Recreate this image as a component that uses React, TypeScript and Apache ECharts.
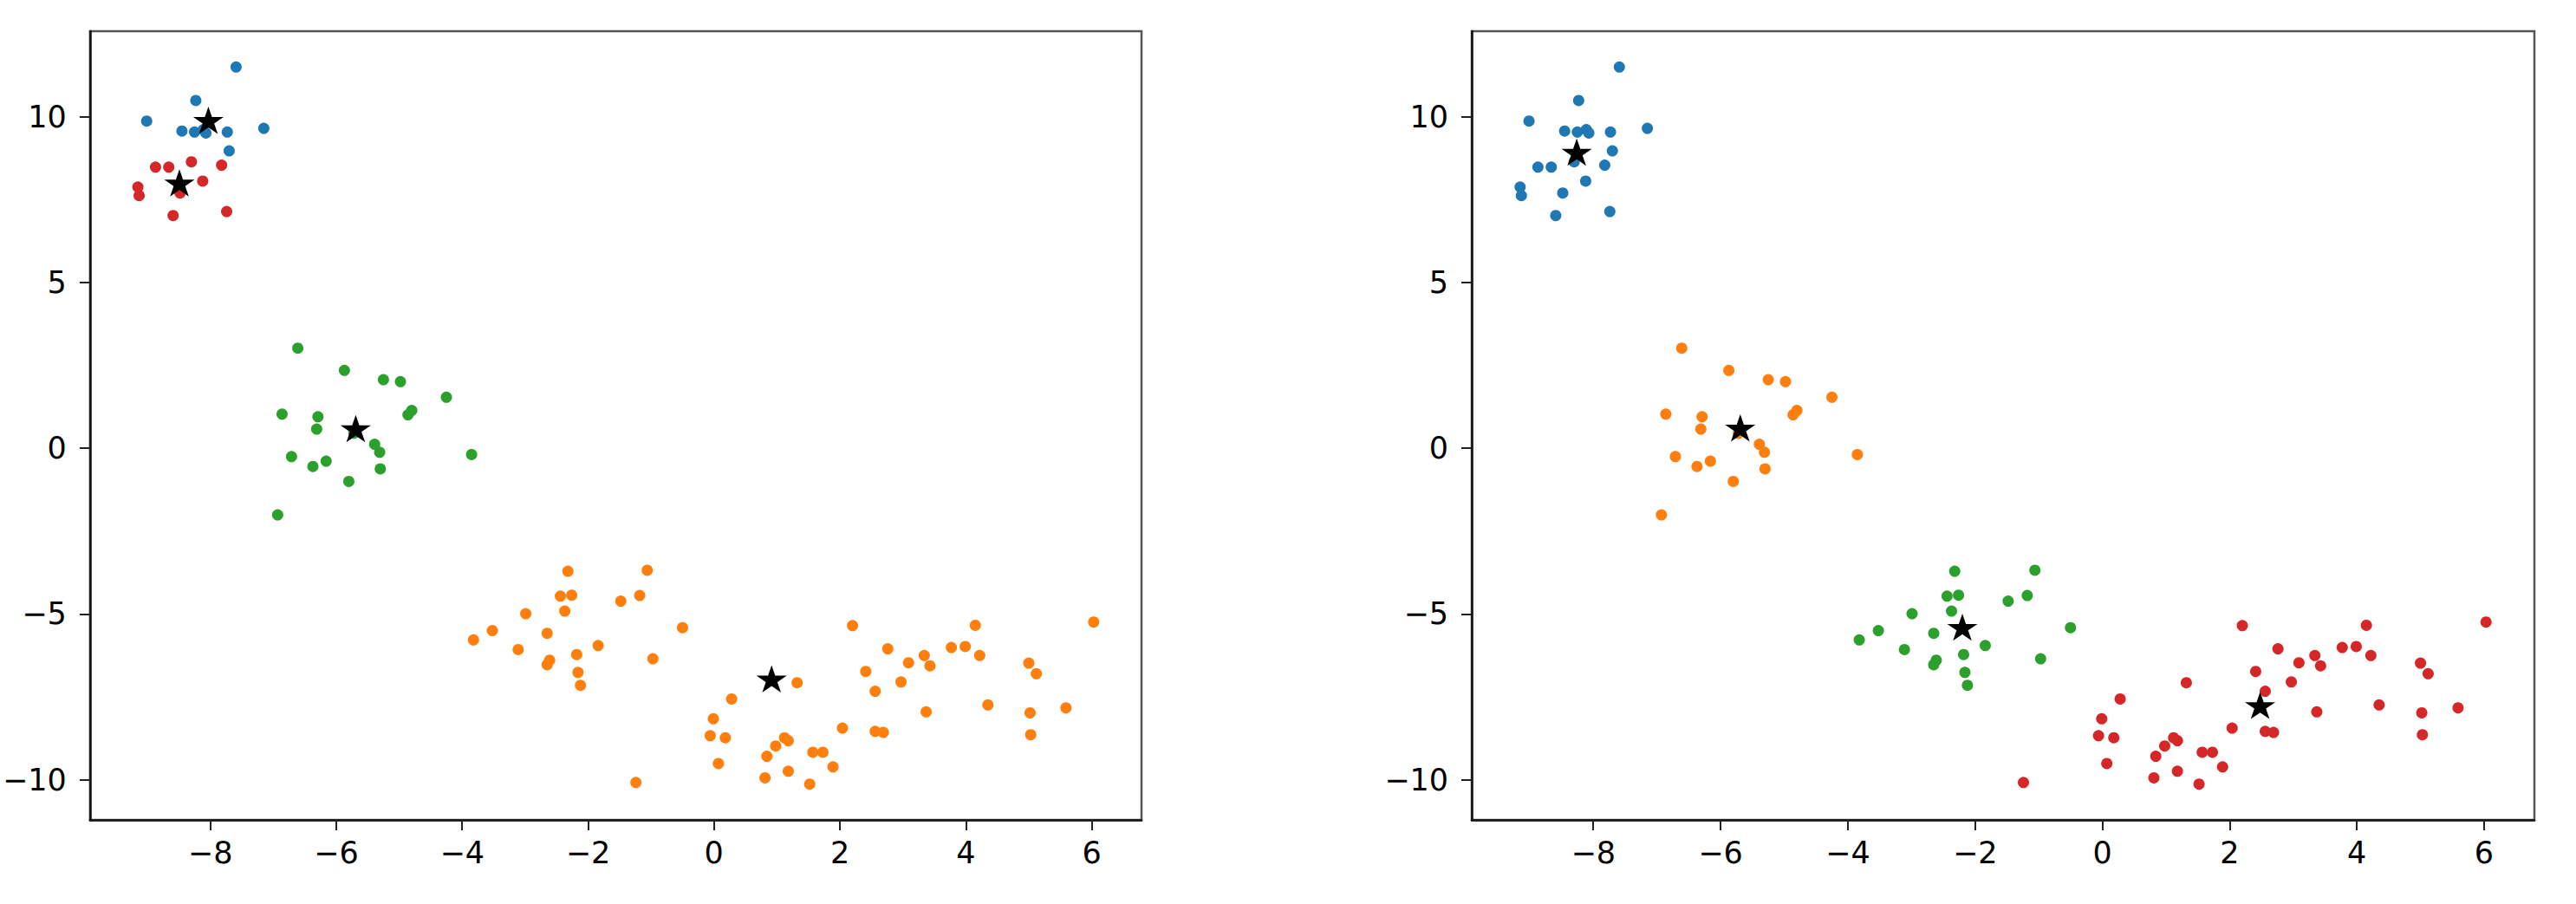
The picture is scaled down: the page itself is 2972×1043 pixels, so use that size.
import React, { useEffect, useRef } from "react";
import * as echarts from "echarts";

// Upper-left blob, first k-means group (blue on the left panel)
const topA: number[][] = [
  [-7.59, 11.5], [-8.23, 10.49], [-9.01, 9.87], [-8.45, 9.57], [-8.25, 9.54],
  [-8.11, 9.61], [-8.07, 9.51], [-7.73, 9.54], [-7.15, 9.65], [-7.7, 8.97],
];
// Upper-left blob, second group (red on the left panel)
const topB: number[][] = [
  [-8.87, 8.48], [-8.66, 8.48], [-8.3, 8.64], [-7.82, 8.54], [-8.12, 8.06],
  [-9.15, 7.88], [-9.13, 7.62], [-8.48, 7.7], [-8.59, 7.02], [-7.74, 7.14],
];
// Middle blob
const mid: number[][] = [
  [-6.61, 3.02], [-5.87, 2.35], [-5.25, 2.07], [-4.98, 2.01], [-4.25, 1.54],
  [-4.86, 1.01], [-4.8, 1.14], [-6.86, 1.03], [-6.29, 0.95], [-6.31, 0.58],
  [-5.39, 0.12], [-5.31, -0.12], [-3.85, -0.19], [-6.71, -0.25], [-6.37, -0.55],
  [-6.16, -0.39], [-5.3, -0.62], [-5.8, -1.0], [-6.93, -2.01], [-5.72, 0.45],
];
// Lower blob, western part
const lowW: number[][] = [
  [-2.32, -3.71], [-1.06, -3.68], [-2.44, -4.46], [-2.26, -4.43], [-1.18, -4.44],
  [-1.48, -4.61], [-2.99, -4.99], [-2.37, -4.91], [-0.5, -5.41], [-3.52, -5.5],
  [-3.82, -5.78], [-2.65, -5.58], [-3.11, -6.07], [-1.84, -5.95], [-2.18, -6.22],
  [-2.61, -6.39], [-2.65, -6.53], [-0.97, -6.35], [-2.16, -6.76], [-2.12, -7.15],
];
// Lower blob, eastern part
const lowE: number[][] = [
  [2.2, -5.35], [4.15, -5.34], [6.03, -5.24], [2.76, -6.05], [3.77, -6.01],
  [3.99, -5.98], [4.22, -6.25], [3.34, -6.25], [3.43, -6.56], [3.09, -6.47],
  [5.0, -6.48], [5.12, -6.8], [2.41, -6.73], [2.97, -7.05], [1.32, -7.07],
  [2.56, -7.33], [0.28, -7.56], [4.35, -7.74], [3.37, -7.95], [5.02, -7.98],
  [5.59, -7.83], [-0.01, -8.16], [2.04, -8.44], [2.56, -8.54], [2.69, -8.57],
  [5.03, -8.64], [-0.06, -8.67], [0.18, -8.73], [1.12, -8.73], [1.18, -8.82],
  [0.98, -8.98], [1.57, -9.17], [1.73, -9.17], [0.84, -9.29], [0.07, -9.51],
  [1.89, -9.61], [1.18, -9.74], [0.81, -9.94], [1.52, -10.13], [-1.24, -10.08],
];
const centersLeft: number[][] = [[-8.03, 9.85], [-8.49, 7.96], [-5.69, 0.55], [0.915, -7.0]];
const centersRight: number[][] = [[-8.26, 8.89], [-5.69, 0.57], [-2.2, -5.44], [2.48, -7.8]];

const xTicks = [-8, -6, -4, -2, 0, 2, 4, 6];
const yTicks = [-10, -5, 0, 5, 10];
const xRange = [-9.91, 6.79];
const yRange = [-11.21, 12.58];

const BLUE = "#1f77b4";
const ORANGE = "#ff7f0e";
const GREEN = "#2ca02c";
const RED = "#d62728";

const STAR =
  "path://M0,-100 L22.45,-30.9 L95.1,-30.9 L36.3,11.8 L58.8,80.9 L0,38.2 L-58.8,80.9 L-36.3,11.8 L-95.1,-30.9 L-22.45,-30.9 Z";

const fmt = (v: number) => String(v).replace("-", "\u2212");

export default function App() {
  const ref = useRef<HTMLDivElement>(null);
  useEffect(() => {
    if (!ref.current) return;
    const chart = echarts.init(ref.current, undefined, { renderer: "svg" });
    const axisFont = { fontFamily: "DejaVu Sans", fontSize: 35, color: "#000" };
    const mkX = (gridIndex: number) => ({
      type: "value",
      gridIndex,
      min: xRange[0],
      max: xRange[1],
      splitLine: { show: false },
      axisLine: { show: true, onZero: false, lineStyle: { color: "#111", width: 2.5 } },
      axisTick: { show: true, length: 12, lineStyle: { color: "#222", width: 2 }, customValues: xTicks },
      axisLabel: { ...axisFont, margin: 20, formatter: fmt, customValues: xTicks },
    });
    const mkY = (gridIndex: number) => ({
      type: "value",
      gridIndex,
      min: yRange[0],
      max: yRange[1],
      splitLine: { show: false },
      axisLine: { show: true, onZero: false, lineStyle: { color: "#111", width: 2.5 } },
      axisTick: { show: true, length: 12, lineStyle: { color: "#222", width: 2 }, customValues: yTicks },
      axisLabel: { ...axisFont, margin: 27, formatter: fmt, customValues: yTicks },
    });
    const dots = (data: number[][], color: string, idx: number) => ({
      type: "scatter",
      xAxisIndex: idx,
      yAxisIndex: idx,
      data,
      symbol: "circle",
      symbolSize: 13,
      itemStyle: { color, opacity: 1 },
      z: 2,
    });
    const stars = (data: number[][], idx: number) => ({
      type: "scatter",
      xAxisIndex: idx,
      yAxisIndex: idx,
      data,
      symbol: STAR,
      symbolKeepAspect: true,
      symbolSize: [35, 33],
      symbolOffset: [0, -1.7],
      itemStyle: { color: "#000", opacity: 1 },
      z: 5,
    });
    chart.setOption({
      animation: false,
      backgroundColor: "#fff",
      grid: [
        { left: 91, top: 36, width: 1226, height: 910, show: true, borderColor: "#555", borderWidth: 2.5, backgroundColor: "transparent" },
        { left: 1698, top: 36, width: 1226, height: 910, show: true, borderColor: "#555", borderWidth: 2.5, backgroundColor: "transparent" },
      ],
      xAxis: [mkX(0), mkX(1)],
      yAxis: [mkY(0), mkY(1)],
      series: [
        dots(topA, BLUE, 0),
        dots([...lowW, ...lowE], ORANGE, 0),
        dots(mid, GREEN, 0),
        dots(topB, RED, 0),
        stars(centersLeft, 0),
        dots([...topA, ...topB], BLUE, 1),
        dots(mid, ORANGE, 1),
        dots(lowW, GREEN, 1),
        dots(lowE, RED, 1),
        stars(centersRight, 1),
      ],
    });
    return () => chart.dispose();
  }, []);
  return (
    <div
      ref={ref}
      style={{ position: "fixed", left: 0, top: 0, width: 2972, height: 1043, background: "#fff" }}
    />
  );
}
